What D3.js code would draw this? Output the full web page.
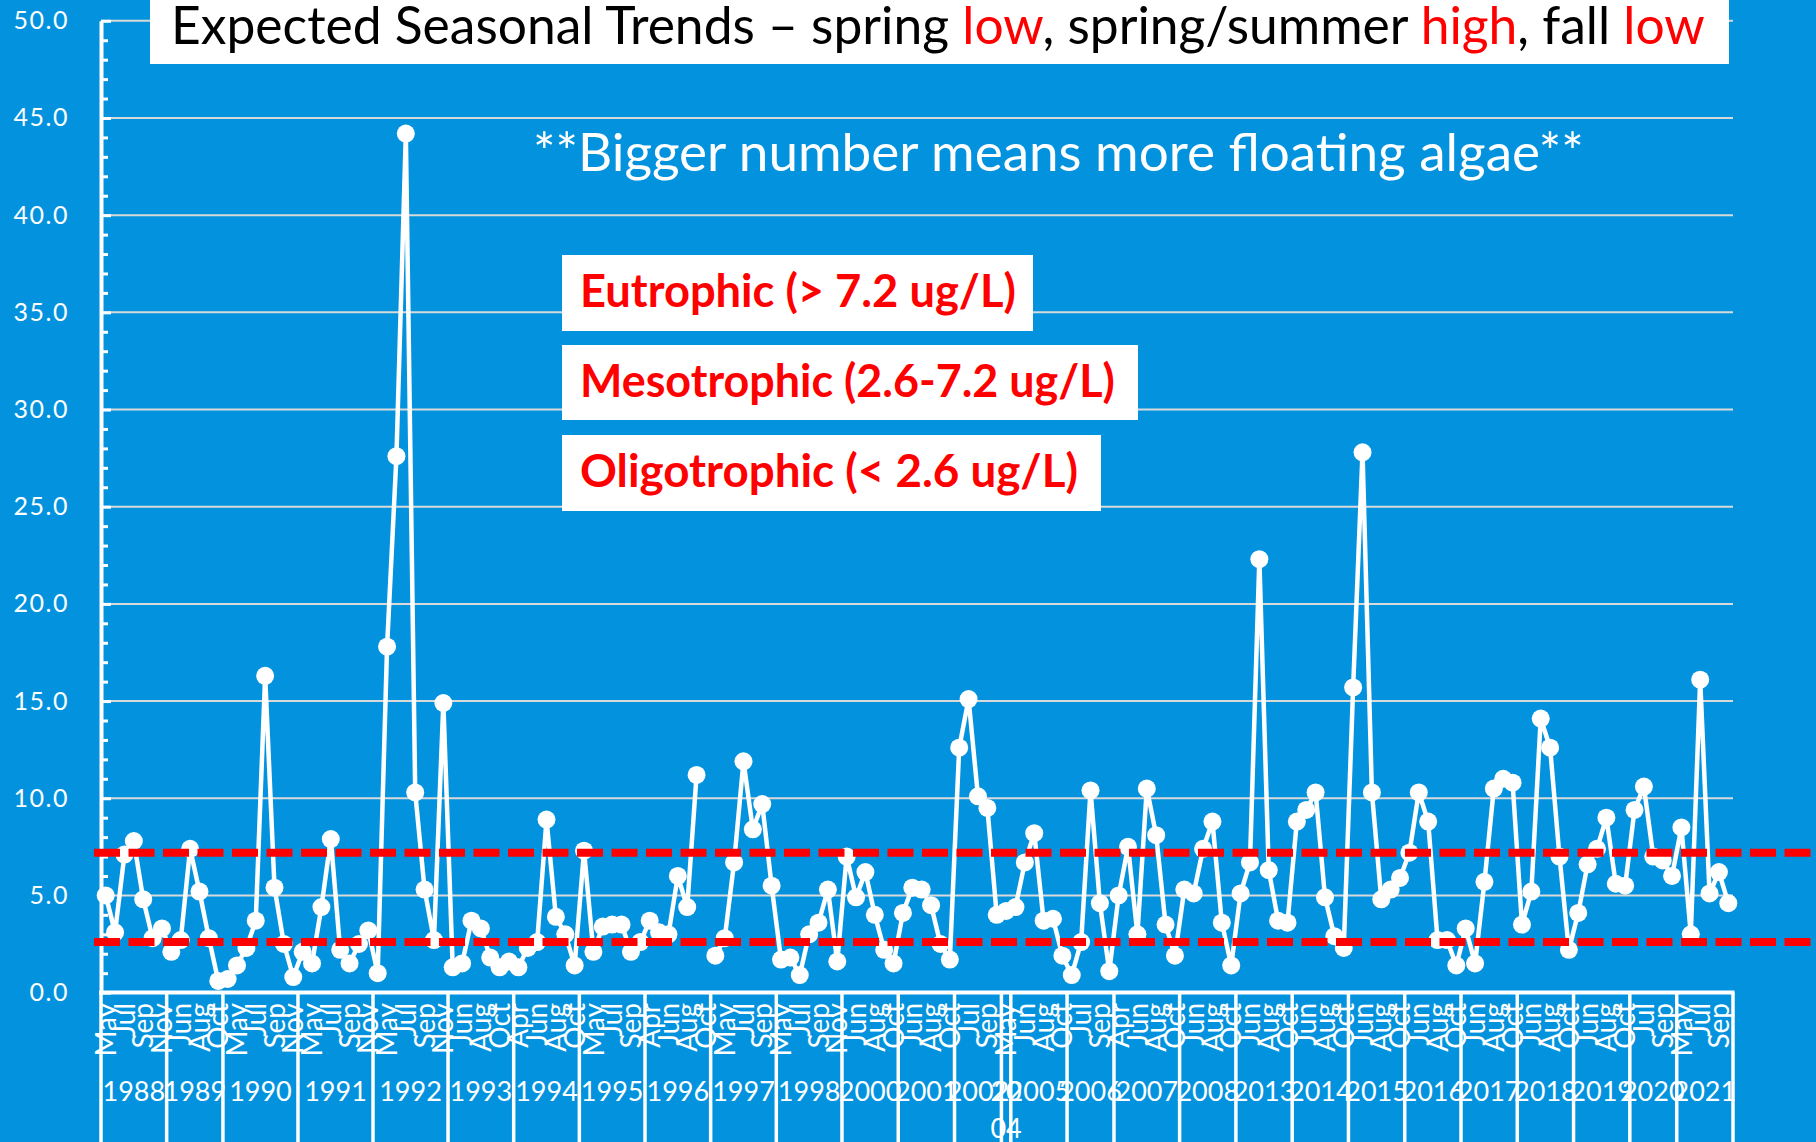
<!DOCTYPE html>
<html>
<head>
<meta charset="utf-8">
<script src="https://cdn.jsdelivr.net/npm/d3@7"></script>
<style>
  body { margin: 0; background: #0393de; }
  svg { display: block; font-family: Lato, "Open Sans", sans-serif; }
</style>
</head>
<body>
<script>
// chlorophyll-a readings grouped by sampling year
const years = ["1988", "1989", "1990", "1991", "1992", "1993", "1994", "1995", "1996", "1997",
  "1998", "2000", "2001", "2002", "2004", "2005", "2006", "2007", "2008", "2013",
  "2014", "2015", "2016", "2017", "2018", "2019", "2020", "2021"];

const monthsByYear = [
  ["May", "Jun", "Jul", "Aug", "Sep", "Oct", "Nov"],
  ["May", "Jun", "Jul", "Aug", "Sep", "Oct"],
  ["Apr", "May", "Jun", "Jul", "Aug", "Sep", "Oct", "Nov"],
  ["Apr", "May", "Jun", "Jul", "Aug", "Sep", "Oct", "Nov"],
  ["Apr", "May", "Jun", "Jul", "Aug", "Sep", "Oct", "Nov"],
  ["May", "Jun", "Jul", "Aug", "Sep", "Oct", "Nov"],
  ["Apr", "May", "Jun", "Jul", "Aug", "Sep", "Oct"],
  ["Apr", "May", "Jun", "Jul", "Aug", "Sep", "Oct"],
  ["Apr", "May", "Jun", "Jul", "Aug", "Sep", "Oct"],
  ["Apr", "May", "Jun", "Jul", "Aug", "Sep", "Oct"],
  ["May", "Jun", "Jul", "Aug", "Sep", "Oct", "Nov"],
  ["May", "Jun", "Jul", "Aug", "Sep", "Oct"],
  ["May", "Jun", "Jul", "Aug", "Sep", "Oct"],
  ["Jun", "Jul", "Aug", "Sep", "Oct"],
  ["May"],
  ["May", "Jun", "Jul", "Aug", "Sep", "Oct"],
  ["Jun", "Jul", "Aug", "Sep", "Oct"],
  ["Apr", "May", "Jun", "Jul", "Aug", "Sep", "Oct"],
  ["May", "Jun", "Jul", "Aug", "Sep", "Oct"],
  ["May", "Jun", "Jul", "Aug", "Sep", "Oct"],
  ["May", "Jun", "Jul", "Aug", "Sep", "Oct"],
  ["May", "Jun", "Jul", "Aug", "Sep", "Oct"],
  ["May", "Jun", "Jul", "Aug", "Sep", "Oct"],
  ["May", "Jun", "Jul", "Aug", "Sep", "Oct"],
  ["May", "Jun", "Jul", "Aug", "Sep", "Oct"],
  ["May", "Jun", "Jul", "Aug", "Sep", "Oct"],
  ["Jun", "Jul", "Aug", "Sep", "Oct"],
  ["May", "Jun", "Jul", "Aug", "Sep", "Oct"]
];

const valuesByYear = [
  [5.0, 3.1, 7.1, 7.8, 4.8, 2.8, 3.3],
  [2.1, 2.7, 7.4, 5.2, 2.8, 0.6],
  [0.7, 1.4, 2.3, 3.7, 16.3, 5.4, 2.5, 0.8],
  [2.1, 1.5, 4.4, 7.9, 2.2, 1.5, 2.5, 3.2],
  [1.0, 17.8, 27.6, 44.2, 10.3, 5.3, 2.7, 14.9],
  [1.3, 1.5, 3.7, 3.3, 1.8, 1.3, 1.6],
  [1.3, 2.3, 2.6, 8.9, 3.9, 3.0, 1.4],
  [7.3, 2.1, 3.4, 3.5, 3.5, 2.1, 2.6],
  [3.7, 3.1, 3.0, 6.0, 4.4, 11.2, null],
  [1.9, 2.8, 6.7, 11.9, 8.4, 9.7, 5.5],
  [1.7, 1.8, 0.9, 3.0, 3.6, 5.3, 1.6],
  [7.0, 4.9, 6.2, 4.0, 2.2, 1.5],
  [4.1, 5.4, 5.3, 4.5, 2.5, 1.7],
  [12.6, 15.1, 10.1, 9.5, 4.0],
  [4.2],
  [4.4, 6.7, 8.2, 3.7, 3.8, 1.9],
  [0.9, 2.6, 10.4, 4.6, 1.1],
  [5.0, 7.5, 3.0, 10.5, 8.1, 3.5, 1.9],
  [5.3, 5.1, 7.4, 8.8, 3.6, 1.4],
  [5.1, 6.7, 22.3, 6.3, 3.7, 3.6],
  [8.8, 9.4, 10.3, 4.9, 2.9, 2.3],
  [15.7, 27.8, 10.3, 4.8, 5.3, 5.9],
  [7.2, 10.3, 8.8, 2.7, 2.7, 1.4],
  [3.3, 1.5, 5.7, 10.5, 11.0, 10.8],
  [3.5, 5.2, 14.1, 12.6, 7.0, 2.2],
  [4.1, 6.6, 7.4, 9.0, 5.6, 5.5],
  [9.4, 10.6, 7.0, 6.8, 6.0],
  [8.5, 3.0, 16.1, 5.1, 6.2, 4.6]
];

const yTicks = [0, 5, 10, 15, 20, 25, 30, 35, 40, 45, 50];
const eutrophicLimit = 7.2;
const oligotrophicLimit = 2.6;

const titleParts = [
  { text: "Expected Seasonal Trends \u2013 spring ", red: false },
  { text: "low", red: true },
  { text: ", spring/summer ", red: false },
  { text: "high", red: true },
  { text: ", fall ", red: false },
  { text: "low", red: true }
];
const subtitle = "**Bigger number means more floating algae**";
const trophicLabels = ["Eutrophic (> 7.2 ug/L)", "Mesotrophic (2.6-7.2 ug/L)", "Oligotrophic (< 2.6 ug/L)"];

// flatten into one category per sample
let points = [];
let groups = [];
years.forEach(function(yr, gi) {
  groups.push({ year: yr, start: points.length, size: monthsByYear[gi].length });
  monthsByYear[gi].forEach(function(m, mi) {
    points.push({ index: points.length, month: m, value: valuesByYear[gi][mi] });
  });
});

const width = 1816;
const height = 1142;
const blue = "#0393de";
const red = "#ff0000";

const svg = d3.select("body").append("svg")
  .attr("width", width)
  .attr("height", height);

svg.append("rect").attr("width", width).attr("height", height).attr("fill", blue);

const xScale = d3.scaleBand()
  .domain(d3.range(points.length))
  .range([101, 1733])
  .padding(0);
const cx = i => xScale(i) + xScale.bandwidth() / 2;

const yScale = d3.scaleLinear().domain([0, 50]).range([992.6, 20.8]);

// gridlines
svg.append("g")
  .selectAll("line")
  .data(yTicks.filter(d => d > 0))
  .enter()
  .append("line")
  .attr("x1", 101)
  .attr("x2", 1733)
  .attr("y1", d => yScale(d))
  .attr("y2", d => yScale(d))
  .attr("stroke", "#d9d9d9")
  .attr("stroke-width", 2);

// minor ticks
const minorAxis = svg.append("g")
  .attr("transform", "translate(101,0)")
  .call(d3.axisLeft(yScale)
    .tickValues(d3.range(0, 51).filter(d => d % 5 !== 0))
    .tickSizeInner(-7)
    .tickSizeOuter(0)
    .tickFormat(""));
minorAxis.select(".domain").remove();
minorAxis.selectAll("line").attr("stroke", "white").attr("stroke-width", 3);

const yAxis = svg.append("g")
  .attr("transform", "translate(101,0)")
  .call(d3.axisLeft(yScale)
    .tickValues(yTicks)
    .tickSizeInner(-10)
    .tickSizeOuter(0)
    .tickPadding(32)
    .tickFormat(d3.format(".1f")));
yAxis.select(".domain").attr("stroke", "white").attr("stroke-width", 4);
yAxis.selectAll("line").attr("stroke", "white").attr("stroke-width", 3);
yAxis.selectAll("text")
  .attr("fill", "white")
  .style("font-family", "Lato, sans-serif")
  .style("font-size", "25px")
  .style("letter-spacing", "1.5px");

// x axis line and group separators
const axisY = yScale(0);
svg.append("line")
  .attr("x1", 99).attr("x2", 1734.5)
  .attr("y1", axisY).attr("y2", axisY)
  .attr("stroke", "white").attr("stroke-width", 4);

const bounds = groups.map(g => xScale(g.start)).concat([1733]);
svg.append("g")
  .selectAll("line")
  .data(bounds)
  .enter()
  .append("line")
  .attr("x1", d => d).attr("x2", d => d)
  .attr("y1", axisY).attr("y2", height)
  .attr("stroke", "white").attr("stroke-width", 3.5);

// month labels (every other category is shown)
svg.append("g")
  .selectAll("text")
  .data(points.filter(p => p.index % 2 === 0))
  .enter()
  .append("text")
  .attr("transform", d => `translate(${cx(d.index)}, 1003) rotate(-90)`)
  .attr("text-anchor", "end")
  .attr("dy", "0.36em")
  .attr("fill", "white")
  .style("font-size", "28px")
  .text(d => d.month);

// year labels
const yearG = svg.append("g");
groups.forEach(function(g) {
  const mid = (xScale(g.start) + xScale(g.start + g.size - 1) + xScale.bandwidth()) / 2;
  const lines = g.size < 2 ? [g.year.slice(0, 2), g.year.slice(2)] : [g.year];
  lines.forEach(function(t, li) {
    yearG.append("text")
      .attr("x", mid)
      .attr("y", 1101 + li * 37)
      .attr("text-anchor", "middle")
      .attr("fill", "white")
      .style("font-size", "27px")
      .text(t);
  });
});

// data line
const line = d3.line()
  .defined(d => d.value !== null)
  .x(d => cx(d.index))
  .y(d => yScale(d.value));

svg.append("path")
  .datum(points)
  .attr("d", line)
  .attr("fill", "none")
  .attr("stroke", "white")
  .attr("stroke-width", 4.5)
  .attr("stroke-linejoin", "round");

svg.append("g")
  .selectAll("circle")
  .data(points.filter(d => d.value !== null))
  .enter()
  .append("circle")
  .attr("cx", d => cx(d.index))
  .attr("cy", d => yScale(d.value))
  .attr("r", 9)
  .attr("fill", "white");

// trophic threshold lines
svg.append("g")
  .selectAll("line")
  .data([eutrophicLimit, oligotrophicLimit])
  .enter()
  .append("line")
  .attr("x1", 94).attr("x2", width)
  .attr("y1", d => yScale(d)).attr("y2", d => yScale(d))
  .attr("stroke", red)
  .attr("stroke-width", 8)
  .attr("stroke-dasharray", "26 8.5");

function fitWidth(sel, target) {
  const w = sel.node().getComputedTextLength();
  const fs = parseFloat(sel.style("font-size"));
  sel.style("font-size", (fs * target / w) + "px");
}

// title box
svg.append("rect")
  .attr("x", 150).attr("y", 0)
  .attr("width", 1579).attr("height", 64)
  .attr("fill", "white");
const title = svg.append("text")
  .attr("x", 171).attr("y", 44)
  .style("font-size", "47px")
  .attr("fill", "black");
title.selectAll("tspan")
  .data(titleParts)
  .enter()
  .append("tspan")
  .attr("fill", d => d.red ? red : "black")
  .text(d => d.text);
fitWidth(title, 1534);

const sub = svg.append("text")
  .attr("x", 533).attr("y", 171)
  .attr("fill", "white")
  .style("font-size", "48px")
  .text(subtitle);
fitWidth(sub, 1051);

// trophic state boxes
const boxes = [
  { y: 255, w: 471, h: 76, tw: 436 },
  { y: 345, w: 576, h: 75, tw: 535 },
  { y: 435, w: 539, h: 76, tw: 498 }
];
trophicLabels.forEach(function(label, i) {
  const b = boxes[i];
  svg.append("rect")
    .attr("x", 562).attr("y", b.y)
    .attr("width", b.w).attr("height", b.h)
    .attr("fill", "white");
  const t = svg.append("text")
    .attr("x", 580).attr("y", b.y + 52)
    .attr("fill", red)
    .style("font-weight", "bold")
    .style("font-size", "40px")
    .text(label);
  fitWidth(t, b.tw);
});
</script>
</body>
</html>
